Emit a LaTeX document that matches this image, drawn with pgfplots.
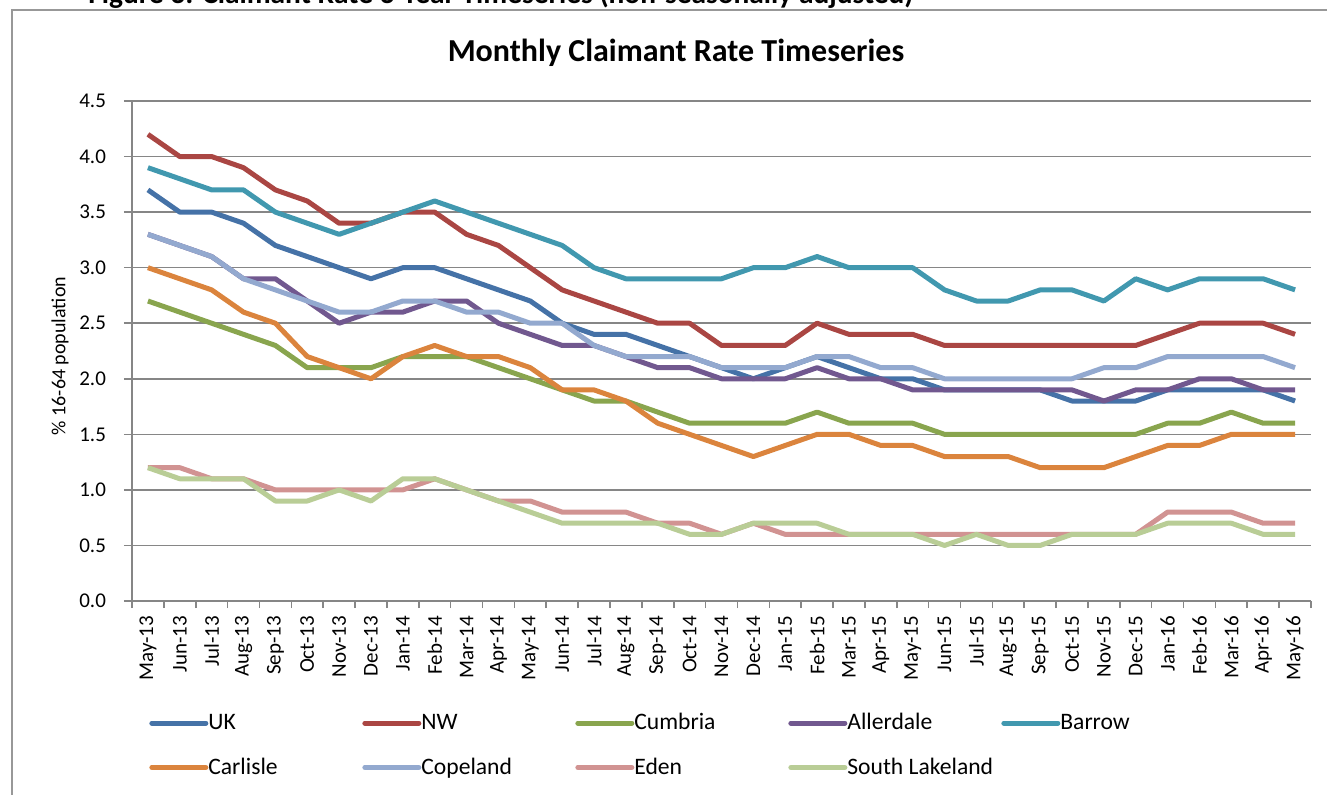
\documentclass[border=0pt]{standalone}
\usepackage{fontspec}
\setmainfont{Carlito}
\usepackage{pgfplots}
\usepackage{pgfplotstable}
\pgfplotsset{compat=1.18}

\definecolor{cUK}{RGB}{69,114,167}
\definecolor{cNW}{RGB}{170,70,67}
\definecolor{cCum}{RGB}{137,165,78}
\definecolor{cAll}{RGB}{113,88,143}
\definecolor{cBar}{RGB}{65,152,175}
\definecolor{cCar}{RGB}{219,132,61}
\definecolor{cCop}{RGB}{147,169,207}
\definecolor{cEde}{RGB}{209,147,146}
\definecolor{cSL}{RGB}{185,205,150}
\definecolor{gridgray}{RGB}{134,134,134}

% month index, then claimant rate (% of 16-64 population)
\pgfplotstableread{
idx UK  NW  Cum All Bar Car Cop Ede SL
0   3.7 4.2 2.7 3.3 3.9 3.0 3.3 1.2 1.2
1   3.5 4.0 2.6 3.2 3.8 2.9 3.2 1.2 1.1
2   3.5 4.0 2.5 3.1 3.7 2.8 3.1 1.1 1.1
3   3.4 3.9 2.4 2.9 3.7 2.6 2.9 1.1 1.1
4   3.2 3.7 2.3 2.9 3.5 2.5 2.8 1.0 0.9
5   3.1 3.6 2.1 2.7 3.4 2.2 2.7 1.0 0.9
6   3.0 3.4 2.1 2.5 3.3 2.1 2.6 1.0 1.0
7   2.9 3.4 2.1 2.6 3.4 2.0 2.6 1.0 0.9
8   3.0 3.5 2.2 2.6 3.5 2.2 2.7 1.0 1.1
9   3.0 3.5 2.2 2.7 3.6 2.3 2.7 1.1 1.1
10  2.9 3.3 2.2 2.7 3.5 2.2 2.6 1.0 1.0
11  2.8 3.2 2.1 2.5 3.4 2.2 2.6 0.9 0.9
12  2.7 3.0 2.0 2.4 3.3 2.1 2.5 0.9 0.8
13  2.5 2.8 1.9 2.3 3.2 1.9 2.5 0.8 0.7
14  2.4 2.7 1.8 2.3 3.0 1.9 2.3 0.8 0.7
15  2.4 2.6 1.8 2.2 2.9 1.8 2.2 0.8 0.7
16  2.3 2.5 1.7 2.1 2.9 1.6 2.2 0.7 0.7
17  2.2 2.5 1.6 2.1 2.9 1.5 2.2 0.7 0.6
18  2.1 2.3 1.6 2.0 2.9 1.4 2.1 0.6 0.6
19  2.0 2.3 1.6 2.0 3.0 1.3 2.1 0.7 0.7
20  2.1 2.3 1.6 2.0 3.0 1.4 2.1 0.6 0.7
21  2.2 2.5 1.7 2.1 3.1 1.5 2.2 0.6 0.7
22  2.1 2.4 1.6 2.0 3.0 1.5 2.2 0.6 0.6
23  2.0 2.4 1.6 2.0 3.0 1.4 2.1 0.6 0.6
24  2.0 2.4 1.6 1.9 3.0 1.4 2.1 0.6 0.6
25  1.9 2.3 1.5 1.9 2.8 1.3 2.0 0.6 0.5
26  1.9 2.3 1.5 1.9 2.7 1.3 2.0 0.6 0.6
27  1.9 2.3 1.5 1.9 2.7 1.3 2.0 0.6 0.5
28  1.9 2.3 1.5 1.9 2.8 1.2 2.0 0.6 0.5
29  1.8 2.3 1.5 1.9 2.8 1.2 2.0 0.6 0.6
30  1.8 2.3 1.5 1.8 2.7 1.2 2.1 0.6 0.6
31  1.8 2.3 1.5 1.9 2.9 1.3 2.1 0.6 0.6
32  1.9 2.4 1.6 1.9 2.8 1.4 2.2 0.8 0.7
33  1.9 2.5 1.6 2.0 2.9 1.4 2.2 0.8 0.7
34  1.9 2.5 1.7 2.0 2.9 1.5 2.2 0.8 0.7
35  1.9 2.5 1.6 1.9 2.9 1.5 2.2 0.7 0.6
36  1.8 2.4 1.6 1.9 2.8 1.5 2.1 0.7 0.6
}\rates

\newcommand{\legtxt}[1]{\makebox[77pt][l]{#1}}

\begin{document}
\begin{tikzpicture}
\begin{axis}[
    scale only axis,
    width=589.5pt, height=250pt,
    at={(0pt,0pt)}, anchor=south west,
    xmin=-0.5, xmax=36.5,
    ymin=0, ymax=4.5,
    axis x line*=bottom, axis y line*=left,
    axis line style={gridgray, line width=0.8pt},
    ymajorgrids,
    grid style={gridgray, line width=0.75pt},
    ytick={0,0.5,1,1.5,2,2.5,3,3.5,4,4.5},
    yticklabel style={xshift=-5.5pt, /pgf/number format/.cd, fixed, fixed zerofill, precision=1, assume math mode=true},
    xtick={0,...,36},
    xticklabels={May-13,Jun-13,Jul-13,Aug-13,Sep-13,Oct-13,Nov-13,Dec-13,Jan-14,Feb-14,Mar-14,Apr-14,
                 May-14,Jun-14,Jul-14,Aug-14,Sep-14,Oct-14,Nov-14,Dec-14,Jan-15,Feb-15,Mar-15,Apr-15,
                 May-15,Jun-15,Jul-15,Aug-15,Sep-15,Oct-15,Nov-15,Dec-15,Jan-16,Feb-16,Mar-16,Apr-16,May-16},
    xticklabel style={rotate=90, anchor=east},
    major x tick style={draw=none},
    minor xtick={-0.5,0.5,...,36.5},
    tick align=outside,
    major tick length=4pt, minor tick length=3.5pt,
    tick style={gridgray, line width=0.8pt},
    ticklabel style={font=\fontsize{10.5}{12}\selectfont},
    ylabel={\% 16-64 population},
    ylabel style={font=\fontsize{10}{12}\selectfont, at={(axis description cs:-0.061,0.49)}, anchor=center},
    title={Monthly Claimant Rate Timeseries},
    title style={font=\bfseries\fontsize{16}{19}\selectfont, at={(axis description cs:0.4614,1.056)}, anchor=base},
    legend columns=5,
    legend style={draw=none, fill=none, at={(axis description cs:0.0093,-0.216)}, anchor=north west,
        font=\fontsize{11.8}{14}\selectfont, column sep=0pt, row sep=12.5pt,
        nodes={inner sep=0pt, anchor=west}},
    legend image code/.code={\draw[#1, line cap=round] (0pt,0pt) -- (27pt,0pt);},
    every axis plot/.append style={line width=2.5pt, line join=round},
]
\addplot[cUK]  table[x=idx, y=UK]  {\rates}; \addlegendentry{\legtxt{UK}}
\addplot[cNW]  table[x=idx, y=NW]  {\rates}; \addlegendentry{\legtxt{NW}}
\addplot[cCum] table[x=idx, y=Cum] {\rates}; \addlegendentry{\legtxt{Cumbria}}
\addplot[cAll] table[x=idx, y=All] {\rates}; \addlegendentry{\legtxt{Allerdale}}
\addplot[cBar] table[x=idx, y=Bar] {\rates}; \addlegendentry{\legtxt{Barrow}}
\addplot[cCar] table[x=idx, y=Car] {\rates}; \addlegendentry{\legtxt{Carlisle}}
\addplot[cCop] table[x=idx, y=Cop] {\rates}; \addlegendentry{\legtxt{Copeland}}
\addplot[cEde] table[x=idx, y=Ede] {\rates}; \addlegendentry{\legtxt{Eden}}
\addplot[cSL]  table[x=idx, y=SL]  {\rates}; \addlegendentry{\legtxt{South Lakeland}}
\end{axis}
% chart frame, running off the right and bottom edges
\draw[gridgray!85, line width=1pt] (620pt,295.5pt) -- (-60pt,295.5pt) -- (-60pt,-120pt);
% figure caption, only its lower part shows
\node[anchor=base west, inner sep=0pt, font=\bfseries\fontsize{14.7}{17}\selectfont] at (-22pt,298.5pt)
    {Figure 3: Claimant Rate 3-Year Timeseries (non-seasonally adjusted)};
\pgfresetboundingbox
\useasboundingbox (-66pt,-96.5pt) rectangle (597.5pt,300.5pt);
\end{tikzpicture}
\end{document}
